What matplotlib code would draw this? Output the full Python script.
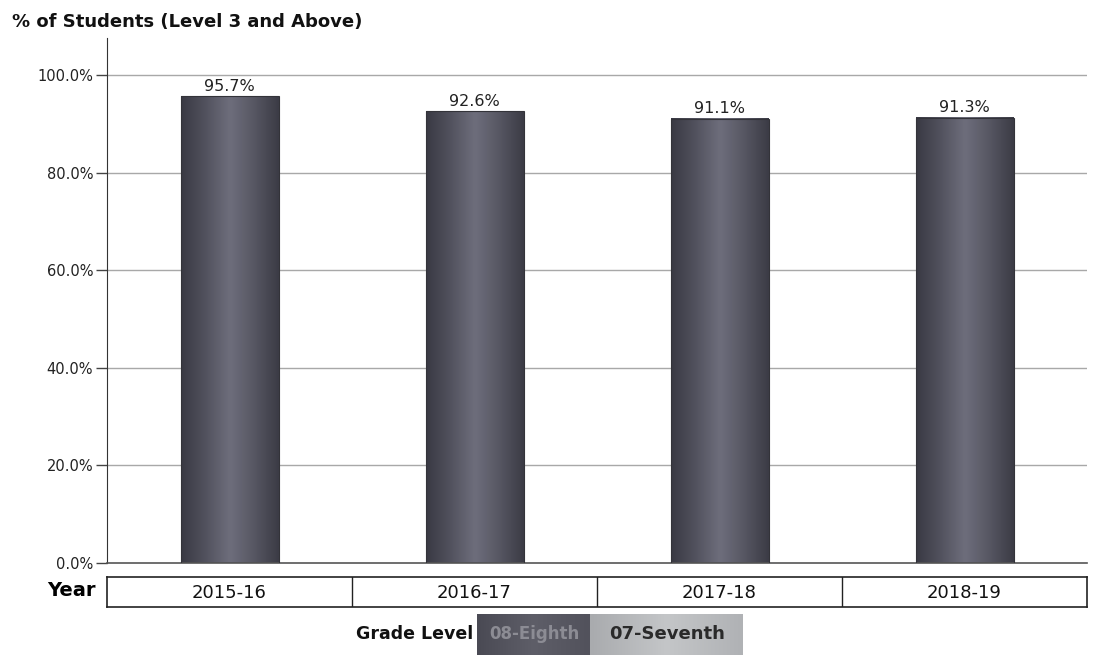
#!/usr/bin/env python3
"""Porcentaje de estudiantes en nivel 3 o superior por año escolar."""
import matplotlib
matplotlib.use("Agg")
import matplotlib.pyplot as plt
import numpy as np
from matplotlib.colors import LinearSegmentedColormap
from matplotlib.patches import Rectangle

years = ["2015-16", "2016-17", "2017-18", "2018-19"]
pct_level3 = [95.7, 92.6, 91.1, 91.3]
y_ticks = [0, 20, 40, 60, 80, 100]
legend_title = "Grade Level"
legend_items = ["08-Eighth", "07-Seventh"]

W, H = 1095, 656
plt.rcParams['font.family'] = ['DejaVu Sans']
fig = plt.figure(figsize=(W / 100, H / 100), dpi=100)


def fx(px):
    return px / W


def fy(py):
    return 1 - py / H


# eje principal
ax = fig.add_axes([fx(107), fy(563), fx(980), (563 - 38) / H])
ax.set_yticks(y_ticks)
ax.set_yticklabels([f"{t:.1f}%" for t in y_ticks], fontsize=10.5, color='#222222')
ax.set_xticks([])
ax.tick_params(axis='y', length=8, width=1, color='#444444', pad=2)
for side in ('top', 'right'):
    ax.spines[side].set_visible(False)
ax.spines['left'].set_color('#333333')
ax.spines['bottom'].set_color('#555555')
ax.spines['bottom'].set_linewidth(1.2)
for t in y_ticks[1:]:
    ax.axhline(t, color='#a8a8a8', lw=1, zorder=0)

bar_cmap = LinearSegmentedColormap.from_list(
    'barra', ['#3a3a44', '#52525e', '#6e6e7c', '#575763', '#3c3c46'])
grad = np.linspace(0, 1, 64).reshape(1, -1)
bar_w = 0.4
for i, v in enumerate(pct_level3):
    cx = i + 0.5
    ax.imshow(grad, cmap=bar_cmap, aspect='auto', extent=(cx - bar_w / 2, cx + bar_w / 2, 0, v),
              interpolation='bicubic', zorder=2)
    ax.add_patch(Rectangle((cx - bar_w / 2, 0), bar_w, v, fill=False, ec='#333339', lw=0.8, zorder=3))
    ax.text(cx, v + 0.5, f"{v:.1f}%", ha='center', va='bottom', fontsize=11.5, color='#222222')
ax.set_xlim(0, len(years))
ax.set_ylim(0, 107.6)

fig.text(fx(12), fy(22), "% of Students (Level 3 and Above)", fontsize=13, fontweight='bold',
         ha='left', va='center', color='#111111')

# tabla de años
tab = fig.add_axes([fx(107), fy(607), fx(980), 30 / H])
tab.set_xlim(0, len(years))
tab.set_ylim(0, 1)
tab.set_xticks([])
tab.set_yticks([])
for s in tab.spines.values():
    s.set_color('#222222')
    s.set_linewidth(1.2)
for i, yr in enumerate(years):
    if i > 0:
        tab.axvline(i, color='#222222', lw=1)
    tab.text(i + 0.5, 0.48, yr, ha='center', va='center', fontsize=13, color='#111111')
fig.text(fx(96), fy(591), "Year", fontsize=14, fontweight='bold', ha='right', va='center')

# leyenda
fig.text(fx(473), fy(634), legend_title, fontsize=12.5, fontweight='bold', ha='right', va='center',
         color='#111111')
leg = fig.add_axes([fx(477), fy(655), fx(266), 41 / H])
leg.axis('off')
dark_cmap = LinearSegmentedColormap.from_list('osc', ['#4a4a54', '#5e5e68', '#52525c'])
light_cmap = LinearSegmentedColormap.from_list('cla', ['#a9abae', '#c4c6c8', '#b0b2b5'])
leg.imshow(grad, cmap=dark_cmap, aspect='auto', extent=(0, 113, 0, 1), interpolation='bicubic')
leg.imshow(grad, cmap=light_cmap, aspect='auto', extent=(113, 266, 0, 1), interpolation='bicubic')
leg.set_xlim(0, 266)
leg.set_ylim(0, 1)
leg.text(57, 0.52, legend_items[0], ha='center', va='center', fontsize=12, fontweight='bold',
         color='#8c8c94')
leg.text(190, 0.52, legend_items[1], ha='center', va='center', fontsize=13, fontweight='bold',
         color='#2a2a2a')

fig.savefig('out.png', dpi=100)
